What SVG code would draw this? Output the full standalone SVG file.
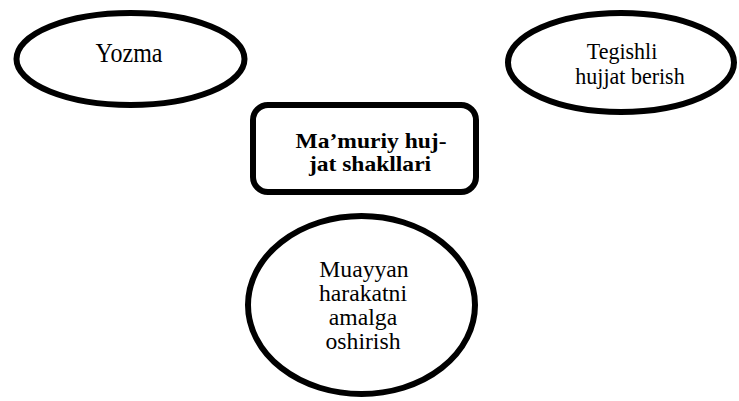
<svg xmlns="http://www.w3.org/2000/svg" width="739" height="401" viewBox="0 0 739 401">
<style>
.sh{fill:#fff;stroke:#000;stroke-width:6}
text{font-family:'Liberation Serif','Times New Roman',serif;fill:#000;text-anchor:middle}
.r{font-size:24px}
.s{font-size:22px}
.m{font-size:23px}
.b{font-weight:bold;font-size:22px}
</style>
<rect width="739" height="401" fill="#fff"/>
<g id="connectors"></g>
<g id="yozma">
<ellipse class="sh" cx="130.5" cy="59" rx="114" ry="46"/>
<text class="r" transform="translate(129,61.7) scale(1,1.15)">Yozma</text>
</g>
<g id="tegishli">
<ellipse class="sh" cx="621" cy="62.5" rx="113" ry="49.5"/>
<text class="s" transform="translate(622,59) scale(1,1.05)">Tegishli</text>
<text class="s" transform="translate(630,84) scale(1,1.05)">hujjat berish</text>
</g>
<g id="center">
<rect class="sh" x="253" y="105" width="223" height="87" rx="15"/>
<text class="b" transform="translate(371,147.5) scale(1.07,1)">Ma’muriy huj-</text>
<text class="b" transform="translate(370,171) scale(1.07,1)">jat shakllari</text>
</g>
<g id="muayyan">
<ellipse class="sh" cx="361.5" cy="305" rx="113.5" ry="89"/>
<text class="m" transform="translate(364,277) scale(1.03,1)">Muayyan</text>
<text class="m" transform="translate(363,301) scale(1.03,1)">harakatni</text>
<text class="m" transform="translate(363,324.5) scale(1.03,1)">amalga</text>
<text class="m" transform="translate(363,348.5) scale(1.03,1)">oshirish</text>
</g>
</svg>
